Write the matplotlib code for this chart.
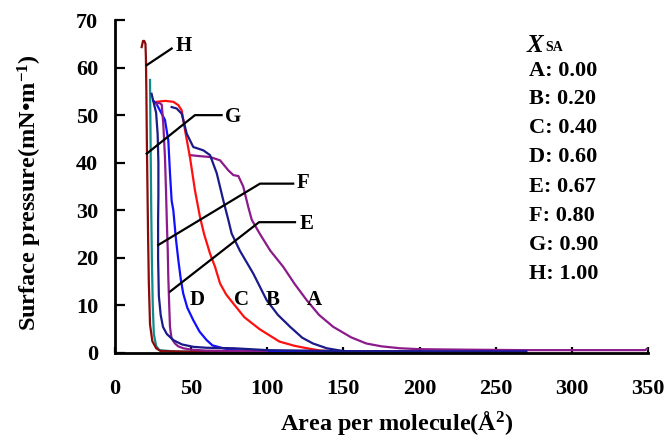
import matplotlib
matplotlib.use("Agg")
import matplotlib.pyplot as plt

# ---------------- data ----------------
a_x = [49.2, 55, 62.4, 69, 74.4, 77.7, 81, 84.2, 87.5, 89.8, 95, 102, 110.5, 118, 125.9, 134, 143.3, 155, 165, 175, 187, 200, 230, 270, 320, 348, 350]
a_y = [41.6, 41.4, 41.2, 40.5, 38.4, 37.4, 37.2, 35, 30.7, 28, 25.1, 21.5, 18.1, 14.5, 11.1, 8.0, 5.5, 3.3, 2.0, 1.4, 1.0, 0.8, 0.7, 0.6, 0.6, 0.6, 1.0]

b_x = [37.2, 40.5, 43.8, 47.1, 51.4, 58, 62.4, 66.8, 71.1, 74.4, 76.6, 82, 90.8, 99.6, 107, 115, 123, 130, 139, 150, 200]
b_y = [51.7, 51.4, 50.3, 46.1, 43.3, 42.6, 41.6, 37.8, 32.1, 28, 25.1, 21.5, 16.7, 11.1, 8.0, 5.5, 3.2, 2.0, 1.0, 0.4, 0.3]

c_x = [27.4, 33, 38.3, 41.6, 43.8, 46, 49.2, 52.5, 55.8, 58.5, 62.4, 65.7, 69, 73, 77.7, 85, 95, 108, 118, 126, 135, 150]
c_y = [52.8, 53.0, 52.8, 52.1, 51, 46.8, 41.2, 34.2, 28.6, 25, 20.9, 18.1, 14.6, 12.3, 10.4, 7.5, 5.0, 2.4, 1.5, 1.0, 0.5, 0.3]

d_x = [25.2, 27, 29.5, 32.8, 35, 36.1, 37.2, 38.3, 40, 41.6, 43.2, 44.8, 47.5, 51.4, 55.5, 60.2, 64, 71, 77.5, 100, 150, 270]
d_y = [53, 52.5, 51, 49, 44.7, 37.8, 32, 30, 24, 19.5, 15.5, 12.5, 9.5, 6.9, 4.5, 2.7, 1.6, 1.0, 0.6, 0.4, 0.3, 0.3]

e_x = [27.4, 29, 30.7, 31.7, 32.8, 33.5, 34, 34.6, 35, 35.6, 36.1, 37, 38.3, 39.4, 41.5, 44.8, 50, 60, 100]
e_y = [52.4, 52.6, 52.2, 48.2, 41.2, 34, 28, 22, 16, 10, 5.5, 3.3, 2.5, 2.0, 1.4, 1.0, 0.7, 0.5, 0.4]

f_x = [24, 25.5, 27, 28, 28.5, 28.5, 28.3, 28.3, 28.8, 30, 31.5, 34, 38.3, 44, 51.4, 60, 77.7, 100, 150, 270]
f_y = [54.5, 52.5, 50.5, 46, 40, 33, 28, 20, 12, 8, 5.5, 4.0, 2.7, 1.8, 1.3, 1.1, 1.0, 0.6, 0.4, 0.3]

g_x = [23, 23.2, 23.5, 23.8, 24.2, 24.8, 25.5, 27, 29, 40, 150]
g_y = [57.4, 50, 40, 30, 20, 10, 4, 1.5, 0.6, 0.3, 0.2]

h_x = [17.5, 18.4, 19.2, 20.0, 20.3, 20.6, 20.9, 21.3, 21.7, 22.2, 23, 24.5, 27, 30, 60, 120]
h_y = [64.3, 65.6, 65.6, 65.0, 62, 55, 45, 35, 25, 15, 6, 2.5, 1.0, 0.4, 0.2, 0.2]

series_names = ["A", "B", "C", "D", "E", "F", "G", "H"]
x_sa = ["0.00", "0.20", "0.40", "0.60", "0.67", "0.80", "0.90", "1.00"]
x_ticks = [0, 50, 100, 150, 200, 250, 300, 350]
y_ticks = [0, 10, 20, 30, 40, 50, 60, 70]

# ---------------- style ----------------
SERIF = "Liberation Serif"
plt.rcParams["font.family"] = [SERIF, "DejaVu Serif"]
plt.rcParams["font.weight"] = "bold"
plt.rcParams["mathtext.fontset"] = "custom"
plt.rcParams["mathtext.rm"] = SERIF + ":bold"
plt.rcParams["mathtext.bf"] = SERIF + ":bold"
plt.rcParams["mathtext.it"] = SERIF + ":bold:italic"
plt.rcParams["mathtext.default"] = "rm"

colors = {
    "A": "#8B1A8B", "B": "#1A1A8A", "C": "#FF1010", "D": "#1010FF",
    "E": "#8B1A8B", "F": "#1A1A8A", "G": "#108A8A", "H": "#8B0A0A",
}
series = {
    "A": (a_x, a_y), "B": (b_x, b_y), "C": (c_x, c_y), "D": (d_x, d_y),
    "E": (e_x, e_y), "F": (f_x, f_y), "G": (g_x, g_y), "H": (h_x, h_y),
}

W, H = 669, 445
fig = plt.figure(figsize=(W / 100, H / 100), dpi=100)
ax = fig.add_axes([115 / W, 1 - 353 / H, (648 - 115) / W, (353 - 20) / H])

for name in ["G", "H", "A", "C", "D", "E", "B", "F"]:
    xs, ys = series[name]
    ax.plot(xs, ys, color=colors[name], lw=1.6, solid_joinstyle="round", zorder=2)

ax.set_xlim(0, 350)
ax.set_ylim(0, 70)
ax.set_xticks(x_ticks)
ax.set_yticks(y_ticks)
for s in ["top", "right"]:
    ax.spines[s].set_visible(False)
for s in ["left", "bottom"]:
    ax.spines[s].set_linewidth(2.0)
ax.tick_params(axis="x", direction="in", length=4, width=1.6, pad=19, labelsize=16)
ax.tick_params(axis="y", direction="in", length=7, width=1.6, pad=12, labelsize=16)
for lab in ax.get_xticklabels() + ax.get_yticklabels():
    lab.set_fontweight("bold")

# axis titles
fig.text(397 / W, 1 - 430 / H, r"Area per molecule(Å$^{2}$)", ha="center", va="baseline",
         fontsize=17.5, fontweight="bold")
fig.text(30 / W, 1 - 193 / H, r"Surface pressure(mN•m$^{-1}$)", ha="center", va="center",
         rotation=90, fontsize=17.5, fontweight="bold")

# curve labels with leader lines (layout positions)
leaders = {
    "H": [(20.8, 60.5), (37.2, 64.0)],
    "G": [(20.8, 41.9), (52.5, 50.0), (70.0, 50.0)],
    "F": [(28.4, 22.7), (95.2, 35.6), (117.0, 35.6)],
    "E": [(36.1, 12.9), (94.6, 27.5), (118.2, 27.5)],
}
label_text_pos = {
    "H": (39.5, 64.6), "G": (72.3, 49.6), "F": (119.5, 35.7), "E": (121.3, 27.1),
}
for name, pts in leaders.items():
    ax.plot([p[0] for p in pts], [p[1] for p in pts], color="black", lw=1.6, zorder=3)
    tx, ty = label_text_pos[name]
    ax.text(tx, ty, name, ha="left", va="center", fontsize=15, fontweight="bold")

inline_labels = {"D": (53.6, 11.1), "C": (83.2, 11.1), "B": (103.5, 11.1), "A": (131.0, 11.1)}
for name, (tx, ty) in inline_labels.items():
    ax.text(tx, ty, name, ha="center", va="center", fontsize=15, fontweight="bold")

# composition legend
fig.text(527 / W, 1 - 52 / H, "X", ha="left", va="baseline", fontsize=18,
         fontweight="bold", fontstyle="italic")
fig.text(545 / W, 1 - 51 / H, "SA", ha="left", va="baseline", fontsize=10,
         fontweight="bold")
legend_rows_y = [71, 99.5, 128, 157.5, 187, 216, 245, 274]
for name, val, py in zip(series_names, x_sa, legend_rows_y):
    fig.text(529 / W, 1 - py / H, f"{name}: {val}", ha="left", va="center",
             fontsize=16, fontweight="bold")

fig.savefig("out.png", dpi=100)
